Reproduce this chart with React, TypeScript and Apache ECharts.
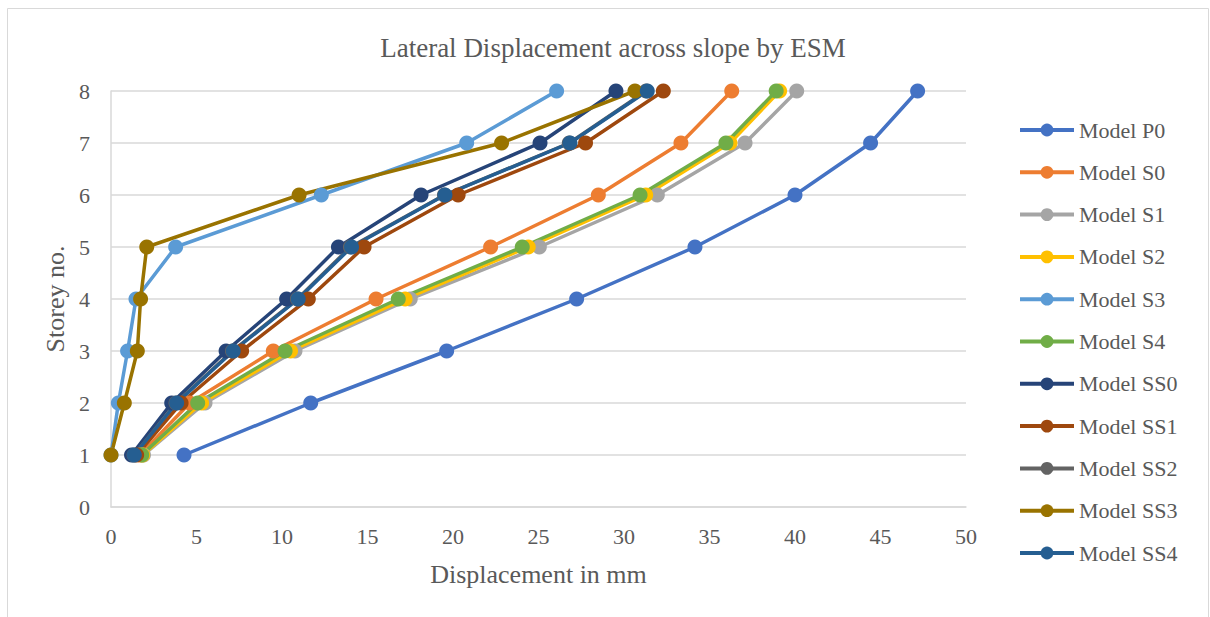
import React, { useEffect, useRef } from "react";
import * as echarts from "echarts";

const storeys = [1, 2, 3, 4, 5, 6, 7, 8];
const seriesNames = [
  "Model P0", "Model S0", "Model S1", "Model S2", "Model S3", "Model S4",
  "Model SS0", "Model SS1", "Model SS2", "Model SS3", "Model SS4",
];
const modelP0 = [4.27, 11.68, 19.63, 27.23, 34.15, 40.0, 44.42, 47.17];
const modelS0 = [1.7, 4.6, 9.49, 15.5, 22.2, 28.5, 33.33, 36.3];
const modelS1 = [1.9, 5.5, 10.76, 17.5, 25.05, 31.95, 37.08, 40.1];
const modelS2 = [1.85, 5.3, 10.5, 17.2, 24.4, 31.27, 36.2, 39.1];
const modelS3 = [0.0, 0.43, 0.97, 1.46, 3.78, 12.3, 20.8, 26.06];
const modelS4 = [1.8, 5.07, 10.18, 16.8, 24.05, 30.94, 35.96, 38.9];
const modelSS0 = [1.2, 3.55, 6.73, 10.27, 13.3, 18.13, 25.09, 29.53];
const modelSS1 = [1.5, 4.1, 7.64, 11.54, 14.8, 20.3, 27.75, 32.3];
const modelSS2 = [1.35, 3.8, 7.1, 10.9, 14.0, 19.5, 26.8, 31.3];
const modelSS3 = [0.0, 0.78, 1.54, 1.73, 2.09, 11.0, 22.84, 30.64];
const modelSS4 = [1.36, 3.84, 7.15, 10.95, 14.07, 19.53, 26.84, 31.36];
const allValues = [
  modelP0, modelS0, modelS1, modelS2, modelS3, modelS4,
  modelSS0, modelSS1, modelSS2, modelSS3, modelSS4,
];
const colors = [
  "#4472C4", "#ED7D31", "#A5A5A5", "#FFC000", "#5B9BD5", "#70AD47",
  "#264478", "#9E480E", "#636363", "#997300", "#255E91",
];

const FONT = "'Liberation Serif', 'Times New Roman', serif";
const TXT = "#595959";

export default function App() {
  const ref = useRef<HTMLDivElement>(null);
  useEffect(() => {
    if (!ref.current) return;
    const chart = echarts.init(ref.current, undefined, { renderer: "svg" });
    chart.setOption({
      animation: false,
      backgroundColor: "#ffffff",
      color: colors,
      textStyle: { fontFamily: FONT, color: TXT },
      title: {
        text: "Lateral Displacement across slope by ESM",
        left: 608,
        textAlign: "center",
        top: 29,
        textStyle: { fontFamily: FONT, fontSize: 27, fontWeight: "normal", color: TXT },
      },
      graphic: [
        {
          type: "rect",
          shape: { x: 7.5, y: 8.5, width: 1201, height: 620 },
          style: { fill: "none", stroke: "#D9D9D9", lineWidth: 1 },
          silent: true,
        },
      ],
      grid: { left: 111, right: 244, top: 91, bottom: 110 },
      legend: {
        orient: "vertical",
        left: 1018,
        top: 118,
        padding: 0,
        itemWidth: 54,
        itemHeight: 16,
        itemGap: 18.3,
        data: seriesNames,
        lineStyle: { width: 4 },
        textStyle: { fontFamily: FONT, fontSize: 22, color: TXT, lineHeight: 24 },
      },
      xAxis: {
        type: "value",
        min: 0,
        max: 50,
        interval: 5,
        name: "Displacement in mm",
        nameLocation: "middle",
        nameGap: 54,
        nameTextStyle: { fontFamily: FONT, fontSize: 26, color: TXT },
        axisLine: { show: true, lineStyle: { color: "#D9D9D9", width: 1.5 } },
        axisTick: { show: false },
        splitLine: { show: false },
        axisLabel: { fontFamily: FONT, fontSize: 22, color: TXT, margin: 18 },
      },
      yAxis: {
        type: "value",
        min: 0,
        max: 8,
        interval: 1,
        name: "Storey no.",
        nameLocation: "middle",
        nameGap: 42,
        nameTextStyle: { fontFamily: FONT, fontSize: 26, color: TXT },
        axisLine: { show: true, lineStyle: { color: "#D9D9D9", width: 1.5 } },
        axisTick: { show: false },
        splitLine: { show: true, lineStyle: { color: "#D9D9D9", width: 1.5 } },
        axisLabel: { fontFamily: FONT, fontSize: 22, color: TXT, margin: 21 },
      },
      series: seriesNames.map((name, i) => ({
        name,
        type: "line",
        data: allValues[i].map((v, j) => [v, storeys[j]]),
        symbol: "circle",
        symbolSize: 15,
        lineStyle: { width: 3.5, color: colors[i] },
        itemStyle: { color: colors[i] },
      })),
    });
    return () => chart.dispose();
  }, []);
  return (
    <div
      ref={ref}
      style={{ position: "absolute", left: 0, top: 0, width: 1210, height: 617 }}
    />
  );
}
